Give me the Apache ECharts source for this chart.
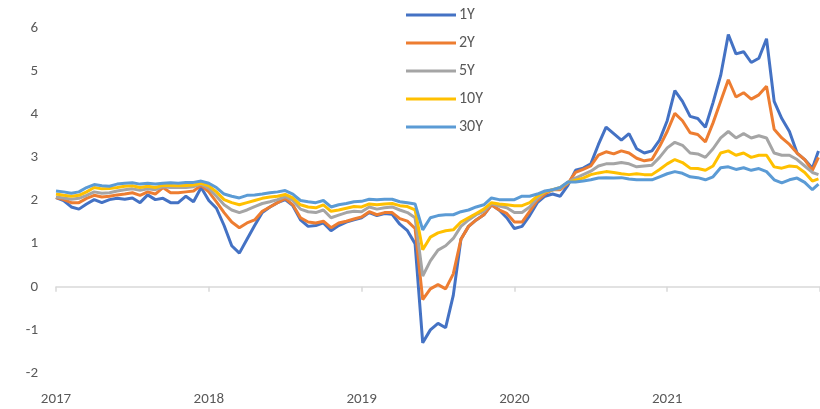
<!DOCTYPE html>
<html>
<head>
<meta charset="utf-8">
<script src="https://cdn.jsdelivr.net/npm/echarts@6/dist/echarts.min.js"></script>
<style>
  html, body { margin: 0; padding: 0; background: #fff; }
  #chart { width: 820px; height: 409px; }
</style>
</head>
<body>
<div id="chart"></div>
<script>
// decimal years, about every 0.05 year
const years = [
  2017.00, 2017.05, 2017.10, 2017.15, 2017.20, 2017.25, 2017.30, 2017.35, 2017.40, 2017.45,
  2017.50, 2017.55, 2017.60, 2017.65, 2017.70, 2017.75, 2017.80, 2017.85, 2017.90, 2017.95,
  2018.00, 2018.05, 2018.10, 2018.15, 2018.20, 2018.25, 2018.30, 2018.35, 2018.40, 2018.45,
  2018.50, 2018.55, 2018.60, 2018.65, 2018.70, 2018.75, 2018.80, 2018.85, 2018.90, 2018.95,
  2019.00, 2019.05, 2019.10, 2019.15, 2019.20, 2019.25, 2019.30, 2019.35, 2019.40, 2019.45,
  2019.50, 2019.55, 2019.60, 2019.65, 2019.70, 2019.75, 2019.80, 2019.85, 2019.90, 2019.95,
  2020.00, 2020.05, 2020.10, 2020.15, 2020.20, 2020.25, 2020.30, 2020.35, 2020.40, 2020.45,
  2020.50, 2020.55, 2020.60, 2020.65, 2020.70, 2020.75, 2020.80, 2020.85, 2020.90, 2020.95,
  2021.00, 2021.05, 2021.10, 2021.15, 2021.20, 2021.25, 2021.30, 2021.35, 2021.40, 2021.45,
  2021.50, 2021.55, 2021.60, 2021.65, 2021.70, 2021.75, 2021.80, 2021.85, 2021.90, 2021.95,
  2021.99
];

const y1 = [
  2.07, 2.00, 1.85, 1.80, 1.92, 2.02, 1.95, 2.02, 2.05, 2.03,
  2.06, 1.95, 2.13, 2.02, 2.05, 1.95, 1.95, 2.10, 1.97, 2.30,
  2.00, 1.82, 1.42, 0.95, 0.78, 1.10, 1.42, 1.72, 1.85, 1.95,
  2.02, 1.88, 1.55, 1.40, 1.42, 1.48, 1.30, 1.42, 1.50, 1.55,
  1.60, 1.72, 1.65, 1.70, 1.68, 1.45, 1.30, 1.00, -1.30, -1.00,
  -0.85, -0.95, -0.20, 1.10, 1.40, 1.55, 1.67, 1.90, 1.78, 1.60,
  1.35, 1.40, 1.65, 1.95, 2.10, 2.15, 2.10, 2.35, 2.70, 2.75,
  2.85, 3.30, 3.70, 3.55, 3.40, 3.55, 3.20, 3.10, 3.15, 3.40,
  3.85, 4.55, 4.30, 3.95, 3.90, 3.70, 4.27, 4.90, 5.85, 5.40,
  5.45, 5.20, 5.30, 5.75, 4.30, 3.90, 3.60, 3.10, 2.95, 2.75,
  3.15
];

const y2 = [
  2.07, 2.02, 1.95, 1.95, 2.05, 2.12, 2.08, 2.10, 2.13, 2.15,
  2.18, 2.12, 2.20, 2.15, 2.30, 2.18, 2.18, 2.20, 2.22, 2.35,
  2.20, 1.97, 1.72, 1.50, 1.37, 1.48, 1.55, 1.75, 1.85, 1.95,
  2.05, 1.90, 1.60, 1.50, 1.48, 1.52, 1.37, 1.48, 1.52, 1.57,
  1.62, 1.74, 1.67, 1.72, 1.72, 1.58, 1.52, 1.35, -0.30, -0.05,
  0.05, -0.05, 0.30, 1.10, 1.40, 1.55, 1.67, 1.90, 1.78, 1.70,
  1.50, 1.50, 1.75, 2.00, 2.15, 2.25, 2.25, 2.40, 2.65, 2.72,
  2.80, 3.05, 3.13, 3.08, 3.15, 3.10, 2.98, 2.92, 2.95, 3.25,
  3.60, 4.02, 3.85, 3.57, 3.53, 3.36, 3.80, 4.30, 4.80, 4.40,
  4.50, 4.35, 4.45, 4.65, 3.65, 3.45, 3.30, 3.10, 2.95, 2.70,
  3.00
];

const y5 = [
  2.08, 2.06, 2.03, 2.05, 2.12, 2.20, 2.17, 2.18, 2.22, 2.25,
  2.27, 2.24, 2.27, 2.25, 2.32, 2.30, 2.30, 2.30, 2.32, 2.38,
  2.28, 2.10, 1.90, 1.78, 1.72, 1.78, 1.86, 1.93, 1.97, 2.02,
  2.09, 2.00, 1.80, 1.74, 1.72, 1.78, 1.60, 1.66, 1.72, 1.75,
  1.74, 1.85, 1.80, 1.83, 1.85, 1.78, 1.72, 1.60, 0.25, 0.60,
  0.85, 0.95, 1.12, 1.40, 1.55, 1.67, 1.75, 1.93, 1.87, 1.83,
  1.72, 1.72, 1.85, 2.05, 2.20, 2.25, 2.28, 2.42, 2.52, 2.60,
  2.68, 2.80, 2.85, 2.85, 2.88, 2.85, 2.78, 2.80, 2.82, 3.00,
  3.22, 3.35, 3.28, 3.10, 3.08, 3.00, 3.20, 3.45, 3.60, 3.45,
  3.55, 3.45, 3.50, 3.45, 3.10, 3.05, 3.05, 2.95, 2.80, 2.65,
  2.60
];

const y10 = [
  2.15, 2.12, 2.10, 2.12, 2.20, 2.30, 2.27, 2.28, 2.30, 2.33,
  2.34, 2.30, 2.33, 2.30, 2.35, 2.35, 2.34, 2.35, 2.36, 2.40,
  2.34, 2.20, 2.02, 1.95, 1.90, 1.95, 2.00, 2.05, 2.08, 2.10,
  2.14, 2.06, 1.90, 1.85, 1.83, 1.90, 1.75, 1.78, 1.82, 1.86,
  1.85, 1.92, 1.90, 1.92, 1.93, 1.88, 1.86, 1.78, 0.86, 1.15,
  1.25, 1.30, 1.32, 1.50, 1.60, 1.70, 1.80, 1.95, 1.92, 1.90,
  1.88, 1.88, 1.95, 2.10, 2.20, 2.25, 2.30, 2.42, 2.47, 2.52,
  2.60, 2.64, 2.67, 2.65, 2.62, 2.60, 2.62, 2.60, 2.60, 2.72,
  2.85, 2.95, 2.88, 2.75, 2.74, 2.70, 2.80, 3.10, 3.15, 3.05,
  3.10, 3.00, 3.05, 3.05, 2.78, 2.75, 2.80, 2.78, 2.65, 2.45,
  2.50
];

const y30 = [
  2.22, 2.20, 2.17, 2.20, 2.30, 2.37, 2.34, 2.33, 2.38, 2.40,
  2.41, 2.38, 2.40, 2.38, 2.40, 2.41, 2.40, 2.42, 2.42, 2.45,
  2.40, 2.30, 2.15, 2.10, 2.06, 2.12, 2.13, 2.15, 2.18, 2.20,
  2.23, 2.15, 2.00, 1.97, 1.95, 2.00, 1.85, 1.90, 1.93, 1.97,
  1.98, 2.03, 2.02, 2.03, 2.03, 1.97, 1.95, 1.92, 1.32, 1.60,
  1.65, 1.67, 1.67, 1.74, 1.78, 1.85, 1.90, 2.06, 2.02, 2.02,
  2.02, 2.10, 2.10, 2.15, 2.22, 2.25, 2.30, 2.43, 2.43, 2.45,
  2.48, 2.52, 2.53, 2.52, 2.53, 2.50, 2.48, 2.48, 2.48, 2.55,
  2.62, 2.67, 2.63, 2.55, 2.53, 2.48, 2.55, 2.76, 2.78, 2.72,
  2.76, 2.70, 2.74, 2.67, 2.48, 2.41, 2.48, 2.52, 2.42, 2.25,
  2.38
];

const seriesNames = ["1Y", "2Y", "5Y", "10Y", "30Y"];
const seriesColors = ["#4472C4", "#ED7D31", "#A5A5A5", "#FFC000", "#5B9BD5"];
const seriesValues = [y1, y2, y5, y10, y30];

const chart = echarts.init(document.getElementById("chart"));

const pairs = (vals) => years.map((yr, i) => [yr, vals[i]]);

chart.setOption({
  animation: false,
  textStyle: { fontFamily: "Calibri, Carlito, 'Liberation Sans', sans-serif" },
  legend: {
    orient: "vertical",
    left: 401,
    top: 2,
    itemWidth: 50,
    itemHeight: 3,
    itemGap: 12,
    icon: "rect",
    textStyle: { color: "#595959", fontSize: 16, padding: [0, 0, 0, -2] },
    data: seriesNames,
  },
  grid: {
    left: 56,
    right: 0,
    top: 28,
    bottom: 36,
    outerBoundsMode: "none",
  },
  xAxis: [
    {
      // year labels along the bottom
      type: "value",
      min: 2017,
      max: 2022,
      interval: 1,
      position: "bottom",
      axisLine: { show: false, onZero: false },
      axisTick: { show: false },
      axisLabel: {
        color: "#595959",
        fontSize: 15,
        margin: 19,
        showMaxLabel: false,
        formatter: (v) => String(v),
      },
      splitLine: { show: false },
    },
    {
      // axis line with ticks at zero
      type: "value",
      min: 2017,
      max: 2022,
      interval: 1,
      position: "bottom",
      axisLine: { onZero: true, lineStyle: { color: "#D9D9D9", width: 1.5 } },
      axisTick: { show: true, length: 5, lineStyle: { color: "#D9D9D9", width: 1.5 } },
      axisLabel: { show: false },
      splitLine: { show: false },
    },
  ],
  yAxis: {
    type: "value",
    min: -2,
    max: 6,
    interval: 1,
    axisLine: { show: false },
    axisTick: { show: false },
    splitLine: { show: false },
    axisLabel: { color: "#595959", fontSize: 15, margin: 18 },
  },
  series: seriesNames.map((name, i) => ({
    name,
    type: "line",
    xAxisIndex: 0,
    data: pairs(seriesValues[i]),
    showSymbol: false,
    lineStyle: { width: 3, color: seriesColors[i] },
    itemStyle: { color: seriesColors[i] },
  })),
});
</script>
</body>
</html>
